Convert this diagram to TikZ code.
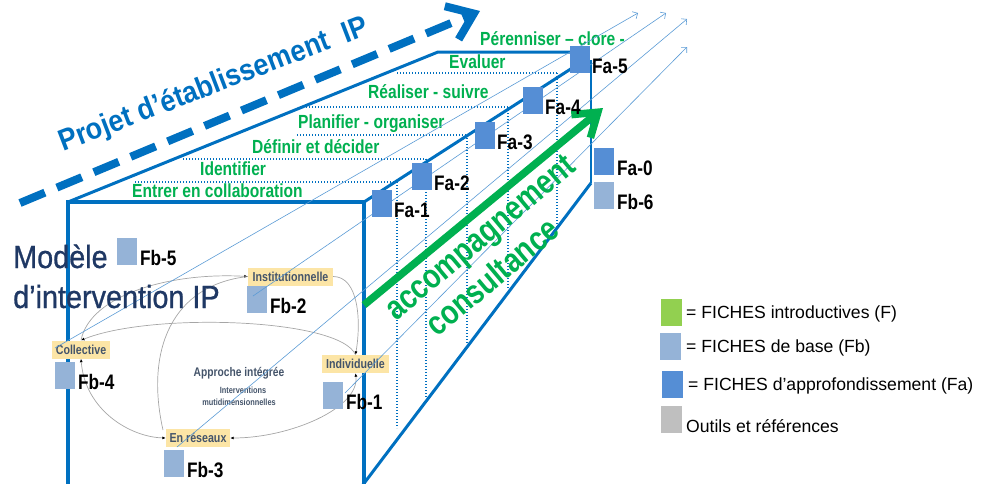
\documentclass[tikz,border=0pt]{standalone}
\usepackage{fontspec}
\setmainfont{Liberation Sans}
\newfontfamily\narrowf[FakeStretch=0.82]{Liberation Sans}
\newfontfamily\semif[FakeStretch=0.9]{Liberation Sans}
\newfontfamily\heavyf[FakeStretch=0.9,FakeBold=0.8]{Liberation Sans}
\usetikzlibrary{arrows.meta}
\definecolor{boxBlue}{HTML}{0070C0}
\definecolor{stageGreen}{HTML}{00B050}
\definecolor{faBlue}{HTML}{558ED5}
\definecolor{fbBlue}{HTML}{95B3D7}
\definecolor{legGreen}{HTML}{92D050}
\definecolor{legGray}{HTML}{BFBFBF}
\definecolor{navyInk}{HTML}{1F3864}
\definecolor{tagYellow}{HTML}{FCE5A6}
\definecolor{inkGray}{HTML}{44546A}
\definecolor{thinBlue}{HTML}{5B9BD5}
\begin{document}
\begin{tikzpicture}[x=1pt,y=-1pt,
  sqfa/.style={fill=faBlue, draw=none, minimum width=20pt, minimum height=27pt, inner sep=0pt, outer sep=0pt, anchor=north west},
  sqfb/.style={sqfa, fill=fbBlue},
  flab/.style={font=\narrowf\bfseries\fontsize{21}{21}\selectfont, anchor=base west, inner sep=0pt},
  stagelab/.style={text=stageGreen, font=\narrowf\bfseries\fontsize{19}{19}\selectfont, anchor=base west, inner sep=0pt},
  frontedge/.style={draw=boxBlue, line width=4pt},
  boxedge/.style={draw=boxBlue, line width=3pt},
  dotl/.style={draw=boxBlue, line width=1.4pt, dash pattern=on 1.4pt off 1.6pt},
  thinarr/.style={draw=thinBlue, line width=0.6pt, -{Straight Barb[length=4pt,width=8pt]}},
  tagbox/.style={fill=tagYellow, text=inkGray, font=\narrowf\bfseries\fontsize{13}{13}\selectfont, inner sep=0pt, minimum height=18pt},
  cyc/.style={draw=gray!70, line width=0.7pt},
  cyctip/.style={-{Latex[length=3.5pt,width=3pt,black]}},
  bothtip/.style={{Latex[length=3.5pt,width=3pt,black]}-{Latex[length=3.5pt,width=3pt,black]}},
  legtxt/.style={font=\fontsize{17.6}{17.6}\selectfont, anchor=base west, inner sep=0pt},
  legsq/.style={minimum width=21pt, minimum height=27pt, inner sep=0pt, anchor=north west, draw=none},
  modtxt/.style={text=navyInk, font=\heavyf\fontsize{32}{32}\selectfont, anchor=base west, inner sep=0pt}
]
\useasboundingbox (0,0) rectangle (988,483);

% ---- big dashed arrow and title
\coordinate (dA) at (20,203);
\coordinate (dB) at (480,11);
\draw[draw=boxBlue, line width=8pt, dash pattern=on 27pt off 13pt, -{Straight Barb[length=24pt,width=36pt]}] (dA) -- (dB);
\node[text=boxBlue, font=\semif\bfseries\fontsize{30}{30}\selectfont, rotate=21, anchor=base west, inner sep=0pt] (title) at (63,152) {Projet d’établissement\ \ IP};

% ---- box geometry
\coordinate (FTL) at (68,202);
\coordinate (FTR) at (364,202);
\coordinate (FBL) at (68,490);
\coordinate (FBR) at (364,490);
\coordinate (BTL) at (438,52);
\coordinate (BTR) at (580,52);
\coordinate (RTE) at (580,63);
\coordinate (BVT) at (591,60);
\coordinate (BVB) at (591,183);
\coordinate (RBE) at (362,486);

\draw[boxedge] (FTL) -- (BTL) -- (BTR);
\draw[boxedge] (FTR) -- (RTE);
\draw[draw=boxBlue, line width=2pt] (BVT) -- (BVB);
\draw[boxedge] (BVB) -- (RBE);
\draw[frontedge] (FBL) -- (FTL) -- (FTR) -- (FBR);

% ---- dotted stage lines
\coordinate (h1a) at (397,73);  \coordinate (h1b) at (557,73);
\coordinate (h2a) at (303,107); \coordinate (h2b) at (508,107);
\coordinate (h3a) at (297,135); \coordinate (h3b) at (467,135);
\coordinate (h4a) at (183,159); \coordinate (h4b) at (426,159);
\coordinate (h5a) at (135,182); \coordinate (h5b) at (397,182);
\draw[dotl] (h1a) -- (h1b);
\draw[dotl] (h2a) -- (h2b);
\draw[dotl] (h3a) -- (h3b);
\draw[dotl] (h4a) -- (h4b);
\draw[dotl] (h5a) -- (h5b);
\coordinate (v1) at (557,227);
\coordinate (v2) at (508,288);
\coordinate (v3) at (467,343);
\coordinate (v4) at (426,398);
\coordinate (v5) at (397,428);
\draw[dotl] (h1b) -- (v1);
\draw[dotl] (h2b) -- (v2);
\draw[dotl] (h3b) -- (v3);
\draw[dotl] (h4b) -- (v4);
\draw[dotl] (h5b) -- (v5);

% ---- stage labels
\node[stagelab] (s7) at (480,45) {Pérenniser – clore -};
\node[stagelab] (s6) at (449,68) {Evaluer};
\node[stagelab] (s5) at (368,98) {Réaliser - suivre};
\node[stagelab] (s4) at (298,128) {Planifier - organiser};
\node[stagelab] (s3) at (252,153) {Définir et décider};
\node[stagelab] (s2) at (200,175) {Identifier};
\node[stagelab] (s1) at (132,197) {Entrer en collaboration};

% ---- inner cycle diagram
\node[tagbox, minimum width=85pt] (Inst) at (290.5,276.5) {Institutionnelle};
\node[tagbox, minimum width=58pt] (Coll) at (81,349.5) {Collective};
\node[tagbox, minimum width=67pt] (Indiv) at (355.5,364) {Individuelle};
\node[tagbox, minimum width=64pt] (ER) at (198,438) {En réseaux};

\draw[cyc, cyctip] (Inst.east) .. controls +(25,0) and +(6,-35) .. (Indiv.north);
\draw[cyc, cyctip] (Coll.north) .. controls (90,295) and (170,272) .. (Inst.west);
\draw[cyc, cyctip] (Indiv.north) .. controls (340,318) and (150,312) .. (Coll.north);
\draw[cyc, bothtip] (Coll.south) .. controls (85,410) and (130,437) .. (ER.west);
\draw[cyc, bothtip] (Indiv.south) .. controls (360,408) and (290,438) .. (ER.east);
\coordinate (erUp) at (163,430);
\draw[cyc] (erUp) .. controls (145,350) and (172,285) .. (Inst.west);

\node[text=inkGray, font=\narrowf\bfseries\fontsize{12.5}{12.5}\selectfont, inner sep=0pt] (appr) at (239,373) {Approche intégrée};
\node[text=inkGray, font=\narrowf\bfseries\fontsize{9}{9}\selectfont, inner sep=0pt] (interv) at (243,390) {Interventions};
\node[text=inkGray, font=\narrowf\bfseries\fontsize{9}{9}\selectfont, inner sep=0pt] (multi) at (239,402) {mutidimensionnelles};

% ---- Fb squares
\node[sqfb] (Fb5) at (117,238) {};
\node[sqfb] (Fb2) at (247,286) {};
\node[sqfb] (Fb4) at (55,362) {};
\node[sqfb] (Fb1) at (323,382) {};
\node[sqfb] (Fb3) at (164,450) {};
\node[flab] (lFb5) at ([xshift=3pt]Fb5.south east) {Fb-5};
\node[flab] (lFb2) at ([xshift=3pt]Fb2.south east) {Fb-2};
\node[flab] (lFb4) at ([xshift=3pt]Fb4.south east) {Fb-4};
\node[flab] (lFb1) at ([xshift=3pt]Fb1.south east) {Fb-1};
\node[flab] (lFb3) at ([xshift=3pt]Fb3.south east) {Fb-3};

% ---- thin perspective arrows
\coordinate (tA) at (55,348);  \coordinate (tA2) at (638,13);
\coordinate (tB) at (253,296); \coordinate (tB2) at (666,13);
\coordinate (tC) at (177,447); \coordinate (tC2) at (687,19);
\coordinate (tD) at (345,393); \coordinate (tD2) at (687,47);
\draw[thinarr] (tA) -- (tA2);
\draw[thinarr] (tB) -- (tB2);
\draw[thinarr] (tC) -- (tC2);
\draw[thinarr] (tD) -- (tD2);

% ---- green arrow and text
\coordinate (gA) at (364,305);
\coordinate (gB) at (603,108);
\draw[draw=stageGreen, line width=7.5pt, -{Straight Barb[length=22pt,width=30pt]}] (gA) -- (gB);
\node[text=stageGreen, font=\narrowf\bfseries\fontsize{34}{34}\selectfont, rotate=40, anchor=base west, inner sep=0pt] (acc) at (396,322) {accompagnement};
\node[text=stageGreen, font=\narrowf\bfseries\fontsize{34}{34}\selectfont, rotate=40, anchor=base west, inner sep=0pt] (cons) at (437,338) {consultance};

% ---- Fa squares
\node[sqfa] (Fa1) at (372,190) {};
\node[sqfa] (Fa2) at (412,163) {};
\node[sqfa] (Fa3) at (475,122) {};
\node[sqfa] (Fa4) at (523,87) {};
\node[sqfa] (Fa5) at (570,46) {};
\node[sqfa] (Fa0) at (594,148) {};
\node[sqfb] (Fb6) at (594,182) {};
\node[flab] (lFa1) at ([xshift=2pt]Fa1.south east) {Fa-1};
\node[flab] (lFa2) at ([xshift=2pt]Fa2.south east) {Fa-2};
\node[flab] (lFa3) at ([xshift=2pt]Fa3.south east) {Fa-3};
\node[flab] (lFa4) at ([xshift=2pt]Fa4.south east) {Fa-4};
\node[flab] (lFa5) at ([xshift=2pt]Fa5.south east) {Fa-5};
\node[flab] (lFa0) at ([xshift=3pt]Fa0.south east) {Fa-0};
\node[flab] (lFb6) at ([xshift=3pt]Fb6.south east) {Fb-6};

% ---- Model title
\node[modtxt] (mod1) at (13,268) {Modèle};
\node[modtxt] (mod2) at (13,308) {d’intervention IP};

% ---- legend
\node[legsq, fill=legGreen] (Lg1) at (661,299) {};
\node[legsq, fill=fbBlue] (Lg2) at (660,333) {};
\node[legsq, fill=faBlue] (Lg3) at (662,371) {};
\node[legsq, fill=legGray] (Lg4) at (661,406) {};
\node[legtxt] (Lt1) at (686,318) {= FICHES introductives (F)};
\node[legtxt] (Lt2) at (686,352) {= FICHES de base (Fb)};
\node[legtxt] (Lt3) at (688,390) {= FICHES d’approfondissement (Fa)};
\node[legtxt] (Lt4) at (686,432) {Outils et références};
\end{tikzpicture}
\end{document}
